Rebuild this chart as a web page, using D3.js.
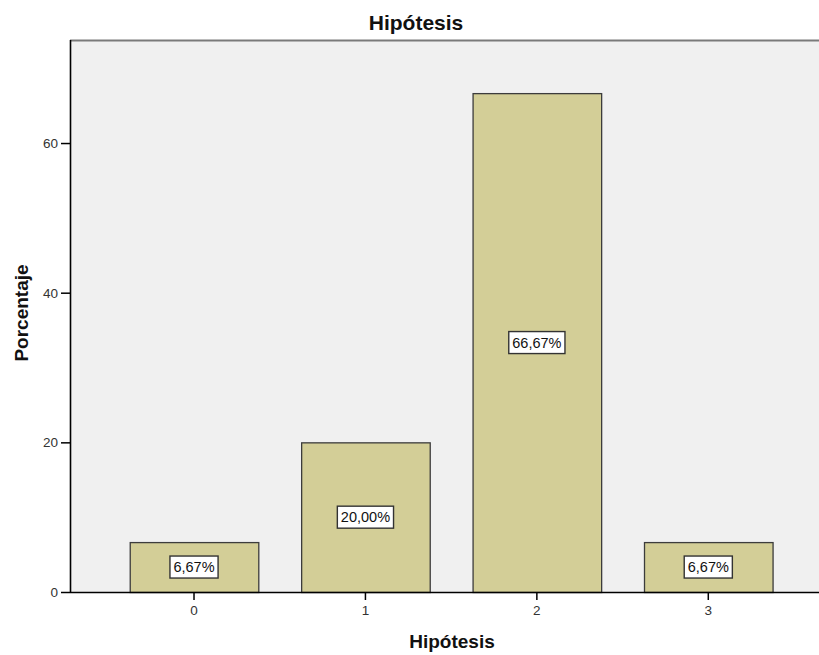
<!DOCTYPE html>
<html><head><meta charset="utf-8">
<script src="https://cdn.jsdelivr.net/npm/d3@7"></script>
<style>
body{margin:0;background:#fff;}
text{font-family:"Liberation Sans",Arial,sans-serif;}
</style></head>
<body><svg id="c" width="819" height="655"></svg>
<script>
const categories = ["0","1","2","3"];
const values = [6.67, 20.00, 66.67, 6.67];
const valueLabels = ["6,67%","20,00%","66,67%","6,67%"];
const yTicks = [0,20,40,60];
const title = "Hipótesis";
const xTitle = "Hipótesis";
const yTitle = "Porcentaje";

const svg = d3.select("#c");
const plot = {left:70, top:40, right:819, bottom:592};

svg.append("rect").attr("x",plot.left).attr("y",plot.top)
  .attr("width",plot.right-plot.left).attr("height",plot.bottom-plot.top)
  .attr("fill","#f0f0f0");
svg.append("line").attr("x1",plot.left).attr("x2",plot.right)
  .attr("y1",plot.top+0.5).attr("y2",plot.top+0.5)
  .attr("stroke","#7a7a7a").attr("stroke-width",2);

const x = d3.scaleBand().domain(categories).range([108.3,794])
  .paddingInner(0.25).paddingOuter(0.125);
const y = d3.scaleLinear().domain([0,73.77]).range([plot.bottom,plot.top]);

const g = svg.append("g");
g.selectAll("rect.bar").data(values).join("rect").attr("class","bar")
  .attr("x",(d,i)=>x(categories[i])+0.5)
  .attr("y",d=>y(d)+0.5)
  .attr("width",x.bandwidth())
  .attr("height",d=>plot.bottom-y(d))
  .attr("fill","#d3ce97").attr("stroke","#3c3c3c").attr("stroke-width",1.3);

// value labels
const lab = g.selectAll("g.lab").data(values).join("g").attr("class","lab")
  .attr("transform",(d,i)=>`translate(${x(categories[i])+x.bandwidth()/2},${y(d/2)})`);
lab.each(function(d,i){
  const s = d3.select(this);
  const t = s.append("text").text(valueLabels[i]).attr("text-anchor","middle")
    .attr("dy","0.36em").attr("font-size",14.5).attr("fill","#111");
  const w = t.node().getComputedTextLength();
  s.insert("rect","text").attr("x",-w/2-3.5).attr("y",-11).attr("width",w+7).attr("height",22)
    .attr("fill","#fff").attr("stroke","#333").attr("stroke-width",1.4);
});

// axes
const ya = svg.append("g").attr("transform",`translate(${plot.left},0)`)
  .call(d3.axisLeft(y).tickValues(yTicks).tickSize(9).tickPadding(3).tickFormat(d3.format("d")));
ya.select(".domain").attr("d",`M0.5,${plot.top}V${plot.bottom+0.5}`).attr("stroke","#000").attr("stroke-width",1.6);
ya.selectAll(".tick line").attr("stroke","#000").attr("stroke-width",1.5);
ya.selectAll("text").attr("font-size",13.5).attr("fill","#333").attr("font-family","Liberation Sans, Arial, sans-serif");

const xa = svg.append("g").attr("transform",`translate(0,${plot.bottom})`)
  .call(d3.axisBottom(x).tickSize(8).tickPadding(5));
xa.select(".domain").attr("d",`M${plot.left},0.5H${plot.right}`).attr("stroke","#000").attr("stroke-width",1.6);
xa.selectAll(".tick line").attr("stroke","#000").attr("stroke-width",1.5);
xa.selectAll("text").attr("font-size",13.5).attr("fill","#333").attr("font-family","Liberation Sans, Arial, sans-serif");

svg.append("text").attr("x",416).attr("y",30).attr("text-anchor","middle")
  .attr("font-size",21).attr("font-weight","bold").attr("fill","#111").text(title);
svg.append("text").attr("x",452).attr("y",648).attr("text-anchor","middle")
  .attr("font-size",19).attr("font-weight","bold").attr("fill","#111").text(xTitle);
svg.append("text").attr("transform","translate(28,313) rotate(-90)").attr("text-anchor","middle")
  .attr("font-size",19).attr("font-weight","bold").attr("fill","#111").text(yTitle);
</script></body></html>
